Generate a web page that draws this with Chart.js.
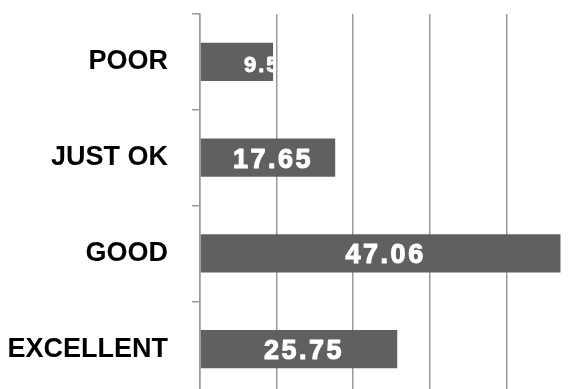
<!DOCTYPE html>
<html>
<head>
<meta charset="utf-8">
<title>Rating breakdown</title>
<script src="https://cdn.jsdelivr.net/npm/chart.js@4.4.0/dist/chart.umd.min.js"></script>
<style>
  html, body { margin: 0; padding: 0; background: #fff; overflow: hidden; }
  #wrap { width: 600px; height: 400px; }
</style>
</head>
<body>
<div id="wrap"><canvas id="ratingChart"></canvas></div>
<script>
// Share of answers per rating (percent)
const categories = ['POOR', 'JUST OK', 'GOOD', 'EXCELLENT'];
const shares = [9.54, 17.65, 47.06, 25.75];
const axisMin = 0;
const axisMax = 50;
const axisStep = 10;

const FONT = '"Liberation Sans", Arial, Helvetica, sans-serif';
const GRID = '#999999';

// White value labels inside each bar, clipped to the bar
const barLabels = {
    id: 'barLabels',
    afterDatasetsDraw(chart) {
        const ctx = chart.ctx;
        const meta = chart.getDatasetMeta(0);
        meta.data.forEach((bar, i) => {
            const text = shares[i].toFixed(2);
            const left = Math.min(bar.base, bar.x);
            const width = Math.abs(bar.x - bar.base);

            ctx.save();
            ctx.beginPath();
            ctx.rect(left, bar.y - bar.height / 2, width + 3, bar.height);
            ctx.clip();
            ctx.fillStyle = '#ffffff';
            ctx.strokeStyle = '#ffffff';
            ctx.lineJoin = 'round';
            ctx.textBaseline = 'alphabetic';

            let size = 27;
            ctx.font = `bold ${size}px ${FONT}`;
            ctx.letterSpacing = '2.5px';
            ctx.lineWidth = 1.1;
            const tw = ctx.measureText(text).width;
            let tx, ty;
            if (tw < width - 10) {
                ctx.textAlign = 'center';
                tx = left + width / 2 + 5;
                ty = bar.y + size * 0.37;
            } else {
                // too narrow: smaller text starting just past the middle
                size = 22;
                ctx.font = `bold ${size}px ${FONT}`;
                ctx.letterSpacing = '2px';
                ctx.lineWidth = 0.9;
                ctx.textAlign = 'left';
                tx = left + width / 2 + 7;
                ty = bar.y + size * 0.44;
            }
            ctx.fillText(text, tx, ty);
            ctx.strokeText(text, tx, ty);
            ctx.restore();
        });
    }
};

new Chart(document.getElementById('ratingChart'), {
    type: 'bar',
    data: {
        labels: categories,
        datasets: [{
            data: shares,
            backgroundColor: '#606060',
            borderWidth: 0,
            categoryPercentage: 1.0,
            barPercentage: 0.4
        }]
    },
    options: {
        indexAxis: 'y',
        responsive: true,
        maintainAspectRatio: false,
        animation: false,
        layout: { padding: { top: 14, right: 17, bottom: 3, left: 0 } },
        plugins: {
            legend: { display: false },
            tooltip: { enabled: false }
        },
        scales: {
            x: {
                min: axisMin,
                max: axisMax,
                ticks: { display: false, stepSize: axisStep },
                grid: { color: GRID, lineWidth: 1.5, drawTicks: false },
                border: { display: false },
                afterFit: (scale) => {
                    scale.height = 0;
                    scale.paddingLeft = 0;
                    scale.paddingRight = 0;
                }
            },
            y: {
                grid: {
                    offset: true,
                    drawOnChartArea: false,
                    drawTicks: true,
                    tickLength: 8,
                    color: GRID,
                    lineWidth: 1.5
                },
                border: { display: true, color: GRID, width: 1.5 },
                ticks: {
                    color: '#000000',
                    padding: 24,
                    font: { family: FONT, size: 27, weight: 'bold' }
                },
                afterFit: (scale) => {
                    scale.width = 200;
                    scale.paddingTop = 0;
                    scale.paddingBottom = 0;
                }
            }
        }
    },
    plugins: [barLabels]
});
</script>
</body>
</html>
